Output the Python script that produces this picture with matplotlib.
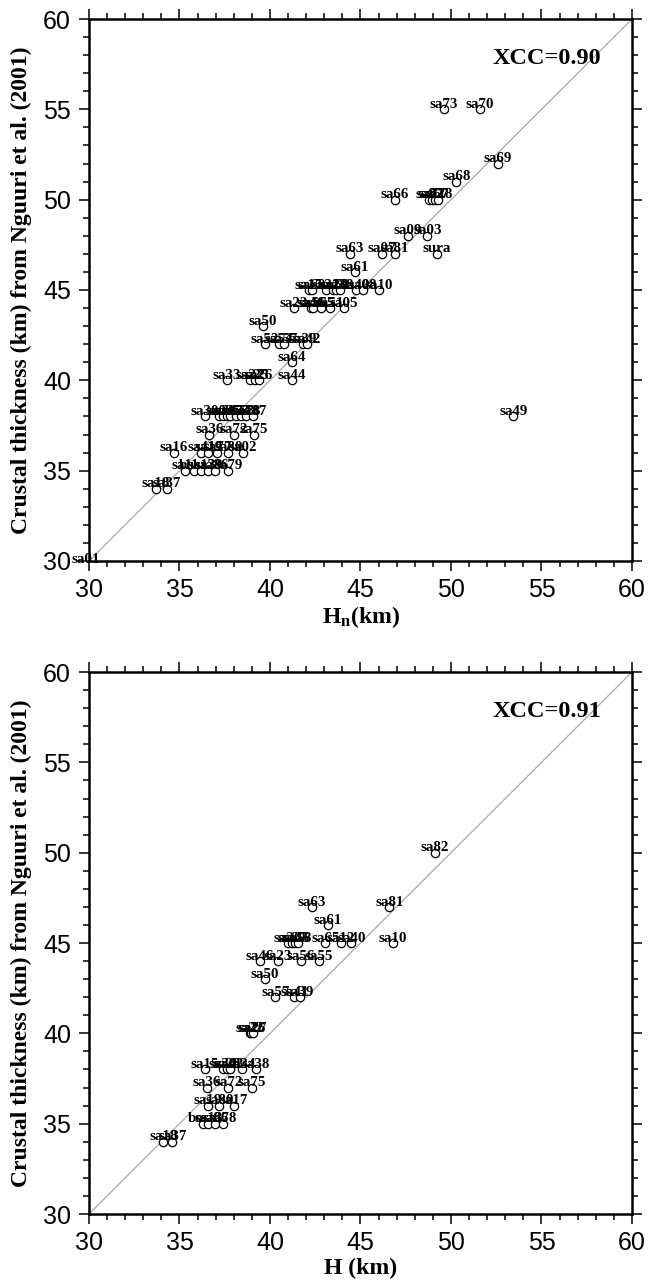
import matplotlib
matplotlib.use("Agg")
import matplotlib.pyplot as plt
from matplotlib.ticker import MultipleLocator

# ---------------- data ----------------
# Panel 1: H_n vs Nguuri et al. (2001)
names1 = ["sa73", "sa70", "sa69", "sa68", "sa66", "sa82", "sa71", "sa67", "sa28",
          "sa09", "sa03", "sa63", "sa07", "sa81", "sura", "sa61",
          "sa15", "sa60", "sa31", "sa20", "sa62", "sa38", "sa40", "sa08", "sa10",
          "sa23", "sa46", "sa56", "sa65", "sa51", "sa05",
          "sa50",
          "sa52", "sa54", "sa57", "sa39", "sa42",
          "sa64",
          "sa33", "sa22", "sa25", "sa26", "sa44",
          "sa49",
          "sa30", "sa04", "sa24", "sa35", "sa43", "sa53", "sa58", "sa78", "sa87",
          "sa36", "sa72", "sa75",
          "sa16", "sa41", "sa19", "sa77", "sa80", "sa02",
          "sa11", "bosa", "sa13", "sa29", "sa86", "sa79",
          "sa18", "sa37",
          "sa01"]
hn = [49.6, 51.6, 52.6, 50.3, 46.9, 48.8, 48.95, 49.1, 49.3,
      47.6, 48.7, 44.4, 46.2, 46.9, 49.2, 44.7,
      42.15, 42.3, 43.1, 43.5, 43.65, 43.85, 44.75, 45.15, 46.0,
      41.3, 42.25, 42.35, 42.8, 43.3, 44.1,
      39.6,
      39.7, 40.5, 40.75, 41.8, 42.05,
      41.2,
      37.6, 38.9, 39.15, 39.4, 41.2,
      53.45,
      36.4, 37.2, 37.4, 37.6, 37.8, 38.1, 38.4, 38.7, 39.05,
      36.65, 38.0, 39.1,
      34.7, 36.2, 36.6, 37.1, 37.7, 38.5,
      35.3, 35.8, 36.2, 36.6, 36.95, 37.7,
      33.7, 34.3,
      29.8]
ng1 = [55, 55, 52, 51, 50, 50, 50, 50, 50,
       48, 48, 47, 47, 47, 47, 46,
       45, 45, 45, 45, 45, 45, 45, 45, 45,
       44, 44, 44, 44, 44, 44,
       43,
       42, 42, 42, 42, 42,
       41,
       40, 40, 40, 40, 40,
       38,
       38, 38, 38, 38, 38, 38, 38, 38, 38,
       37, 37, 37,
       36, 36, 36, 36, 36, 36,
       35, 35, 35, 35, 35, 35,
       34, 34,
       29.8]

# Panel 2: H vs Nguuri et al. (2001)
names2 = ["sa82", "sa63", "sa81", "sa61",
          "sa20", "sa60", "sa45", "sa58", "sa65", "sa12", "sa40", "sa10",
          "sa46", "sa23", "sa56", "sa55",
          "sa50",
          "sa57", "sa41", "sa39",
          "sa22", "sa26", "sa27",
          "sa15", "sa30", "sa28", "sa43", "sa34", "sa38",
          "sa36", "sa72", "sa75",
          "sa19", "sa80", "sa17",
          "bosa", "sa13", "sa86", "sa78",
          "sa18", "sa37"]
h = [49.1, 42.3, 46.6, 43.2,
     41.0, 41.2, 41.4, 41.55, 43.05, 43.9, 44.5, 46.8,
     39.45, 40.45, 41.7, 42.7,
     39.7,
     40.3, 41.35, 41.65,
     38.9, 38.97, 39.05,
     36.4, 37.4, 37.6, 37.8, 38.45, 39.2,
     36.5, 37.7, 39.0,
     36.55, 37.2, 38.0,
     36.3, 36.6, 36.95, 37.4,
     34.1, 34.6]
ng2 = [50, 47, 47, 46,
       45, 45, 45, 45, 45, 45, 45, 45,
       44, 44, 44, 44,
       43,
       42, 42, 42,
       40, 40, 40,
       38, 38, 38, 38, 38, 38,
       37, 37, 37,
       36, 36, 36,
       35, 35, 35, 35,
       34, 34]

xcc = ["XCC=0.90", "XCC=0.91"]
xlabels = [r"$\mathbf{H_n}$(km)", "H (km)"]
ylabel = "Crustal thickness (km) from Nguuri et al. (2001)"
lims = [30, 60]

# ---------------- plotting ----------------
SERIF = ["Liberation Serif", "DejaVu Serif"]
SANS = ["Liberation Sans", "DejaVu Sans"]
plt.rcParams["mathtext.fontset"] = "custom"
plt.rcParams["mathtext.rm"] = "Liberation Serif"
plt.rcParams["mathtext.bf"] = "Liberation Serif:bold"

fig = plt.figure(figsize=(6.49, 12.84), dpi=100)
ax1 = fig.add_axes([0.1371, 0.5631, 0.8367, 0.4221])
ax2 = fig.add_axes([0.1371, 0.0545, 0.8367, 0.4221])

panels = [(ax1, hn, ng1, names1), (ax2, h, ng2, names2)]
for i, (ax, xs, ys, nms) in enumerate(panels):
    ax.plot(lims, lims, color="#a8a8a8", lw=0.9, zorder=1)
    ax.scatter(xs, ys, s=36, facecolors="white", edgecolors="black",
               linewidths=0.9, zorder=2)
    for x, y, n in zip(xs, ys, nms):
        ax.annotate(n, (x, y), xytext=(0, 1), textcoords="offset points",
                    ha="center", va="baseline", fontsize=10.8,
                    fontweight="bold", family=SERIF, zorder=3,
                    annotation_clip=False)
    ax.text(58.3, 57.8, xcc[i], ha="right", va="center", fontsize=17.5,
            fontweight="bold", family=SERIF)
    ax.set_xlim(lims)
    ax.set_ylim(lims)
    ax.xaxis.set_major_locator(MultipleLocator(5))
    ax.yaxis.set_major_locator(MultipleLocator(5))
    ax.xaxis.set_minor_locator(MultipleLocator(1))
    ax.yaxis.set_minor_locator(MultipleLocator(1))
    ax.tick_params(which="both", direction="out", top=True, right=True,
                   labeltop=False, labelright=False, width=1.1)
    ax.tick_params(which="major", length=7, labelsize=18)
    ax.tick_params(which="minor", length=4)
    ax.tick_params(axis="x", which="major", pad=5)
    ax.tick_params(axis="y", which="major", pad=6)
    for lab in ax.get_xticklabels() + ax.get_yticklabels():
        lab.set_family(SANS)
    for sp in ax.spines.values():
        sp.set_linewidth(1.8)
    ax.set_xlabel(xlabels[i], fontsize=17, fontweight="bold", family=SERIF,
                  labelpad=2)
    ax.set_ylabel(ylabel, fontsize=17, fontweight="bold", family=SERIF,
                  labelpad=8)

fig.savefig("out.png", dpi=100)
